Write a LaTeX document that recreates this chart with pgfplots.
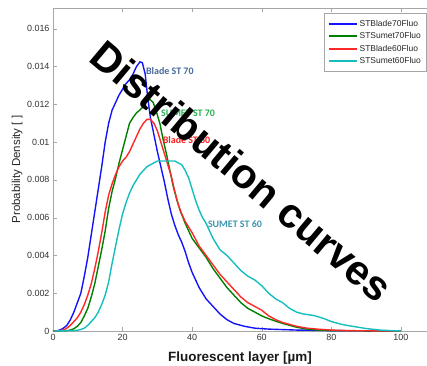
\documentclass[border=0pt]{standalone}
\usepackage{fontspec}
\setmainfont{Liberation Sans}
\newfontfamily\calibri{Carlito}
\usepackage{pgfplots}
\pgfplotsset{compat=1.18}
\definecolor{lineBlue}{RGB}{20,20,250}
\definecolor{lineGreen}{RGB}{0,128,0}
\definecolor{lineRed}{RGB}{255,40,40}
\definecolor{lineCyan}{RGB}{20,190,190}
\definecolor{ablue}{RGB}{70,105,155}
\definecolor{agreen}{RGB}{40,175,80}
\definecolor{ared}{RGB}{250,30,30}
\definecolor{ateal}{RGB}{60,150,175}
\begin{document}
\begin{tikzpicture}
\begin{axis}[
  scale only axis, width=374bp, height=323bp,
  xmin=0, xmax=107.5, ymin=0, ymax=0.0171,
  clip=false,
  xtick={0,20,40,60,80,100},
  ytick={0,0.002,0.004,0.006,0.008,0.01,0.012,0.014,0.016},
  yticklabels={0,0.002,0.004,0.006,0.008,0.01,0.012,0.014,0.016},
  scaled y ticks=false,
  tick align=inside, major tick length=4bp,
  xtick pos=both, ytick pos=left,
  axis line style={gray!70}, tick style={gray!70},
  ticklabel style={font=\fontsize{9}{10}\selectfont, text=black!80},
  /pgf/number format/assume math mode=true,
  xlabel={Fluorescent layer [µm]},
  xlabel style={font=\bfseries\fontsize{13.5}{15}\selectfont, at={(axis description cs:0.5,0)}, anchor=base, yshift=-30bp, text=black!90},
  ylabel={Probability Density [ ]},
  ylabel style={font=\fontsize{11.5}{13}\selectfont, at={(axis description cs:-0.096,0.5)}, anchor=center, text=black!85},
  legend style={at={(rel axis cs:1,1)}, anchor=north east, xshift=-1bp, yshift=-5.5bp, draw=gray!70,
    font=\fontsize{8.5}{10}\selectfont, text=black!85, inner xsep=3bp, inner ysep=4.5bp, row sep=0.8bp},
  legend cell align=left,
  legend image code/.code={\draw[#1] (0bp,0bp) -- (28bp,0bp);},
]
\addplot[forget plot, color=lineBlue, line width=1.4pt, mark=none] coordinates {
(0,0) (1,0.00001) (2,0.00005) (3,0.00015) (4,0.0003) (5,0.0006) (6,0.0010) (7,0.0015)
(8,0.0020) (9,0.0029) (10,0.0039) (11,0.0051) (12,0.0063) (13,0.0075) (14,0.0087)
(15,0.0100) (16,0.0110) (17,0.0117) (18,0.0121) (19,0.0125) (20,0.0128) (21,0.0131)
(22,0.0133) (23,0.0136) (24,0.0140) (25,0.01425) (25.7,0.0142) (26.5,0.0136) (27.2,0.0124)
(28,0.0113) (29,0.0104) (30,0.0095) (31,0.0087) (32,0.0079) (33,0.0070) (34,0.0062)
(35,0.0056) (36,0.0051) (37,0.0047) (38,0.0042) (39,0.0036) (40,0.0031) (41,0.0027)
(42,0.0023) (43,0.0020) (44,0.0017) (45,0.0015) (46,0.0013) (47,0.0011) (48,0.0009)
(50,0.0006) (52,0.0004) (55,0.00025) (58,0.00015) (62,0.0001) (70,0.00005) (80,0.00002) (100,0)
};
\addplot[forget plot, color=lineGreen, line width=1.4pt, mark=none] coordinates {
(0,0) (4,0.00002) (5,0.00005) (6,0.00012) (7,0.00025) (8,0.00045) (9,0.0008) (10,0.0012)
(11,0.0018) (12,0.0025) (13,0.0034) (14,0.0043) (15,0.0053) (16,0.0065) (17,0.0074)
(18,0.0081) (19,0.0089) (20,0.0096) (21,0.0103) (22,0.0110) (23,0.0113) (24,0.01155)
(25,0.0117) (26,0.0119) (27,0.0122) (27.9,0.01225) (28.8,0.0121) (29.8,0.01155)
(30.7,0.0110) (31.7,0.0101) (32.7,0.0093) (33.6,0.0085) (34.5,0.0077) (35.5,0.0070)
(36.5,0.0064) (38,0.0057) (40,0.0049) (42,0.0044) (44,0.0039) (46,0.0033) (48,0.0028)
(50,0.0023) (52,0.0019) (54,0.0015) (56,0.0012) (58,0.0010) (60,0.0008) (62,0.00065)
(64,0.00052) (66,0.0004) (68,0.0003) (70,0.0002) (73,0.0001) (76,0.00005) (80,0.00002) (100,0)
};
\addplot[forget plot, color=lineRed, line width=1.4pt, mark=none] coordinates {
(0,0) (2,0.00002) (3,0.00005) (4,0.00015) (5,0.0003) (6,0.0005) (7,0.0007) (8,0.0010)
(9,0.0014) (10,0.0019) (11,0.0025) (12,0.0033) (13,0.0042) (14,0.0052) (15,0.0063)
(16,0.0072) (17,0.0078) (18,0.0083) (19,0.0087) (20,0.0090) (21,0.0092) (22,0.0095)
(23,0.0099) (24,0.0103) (25,0.0107) (26,0.0110) (27,0.0112) (28,0.0112) (29,0.0110)
(30,0.0106) (31,0.0100) (32,0.0094) (33,0.0088) (34,0.0082) (35,0.0074) (36,0.0067)
(37,0.0062) (38,0.0058) (40,0.0052) (42,0.0045) (44,0.0040) (46,0.0035) (48,0.0030)
(50,0.0026) (52,0.0022) (54,0.0018) (56,0.0015) (58,0.0013) (60,0.0011) (62,0.0008)
(64,0.0006) (66,0.00045) (68,0.00035) (70,0.00025) (73,0.00015) (76,0.0001) (80,0.00005)
(84,0.00002) (100,0)
};
\addplot[forget plot, color=lineCyan, line width=1.4pt, mark=none] coordinates {
(0,0) (6,0.00002) (7,0.00004) (8,0.00008) (9,0.00015) (10,0.0003) (11,0.0005) (12,0.0007)
(13,0.0010) (14,0.0014) (15,0.0019) (16,0.0026) (17,0.0036) (18,0.0045) (19,0.0054)
(20,0.0062) (21,0.0068) (22,0.0073) (23,0.0077) (24,0.0080) (25,0.0083) (26,0.0085)
(27,0.0087) (28,0.0088) (29,0.0089) (30,0.0090) (31,0.0090) (32,0.0090) (33,0.0090)
(34,0.0090) (35,0.0090) (36,0.0089) (37,0.0088) (38,0.0085) (39,0.0081) (40,0.0075)
(41,0.0069) (42,0.0064) (43,0.0060) (44,0.0057) (45,0.0053) (46,0.0049) (47,0.0046)
(48,0.0043) (50,0.0040) (52,0.0036) (54,0.0032) (56,0.0029) (58,0.0027) (60,0.0024)
(62,0.0020) (64,0.0017) (66,0.0015) (68,0.0012) (70,0.0010) (72,0.0009) (75,0.00082)
(78,0.00065) (80,0.0005) (83,0.00035) (86,0.00025) (90,0.00013) (94,0.00005) (97,0.00002) (100,0)
};
\addlegendimage{color=lineBlue, line width=2pt}
\addlegendentry{STBlade70Fluo}
\addlegendimage{color=lineGreen, line width=2pt}
\addlegendentry{STSumet70Fluo}
\addlegendimage{color=lineRed, line width=2pt}
\addlegendentry{STBlade60Fluo}
\addlegendimage{color=lineCyan, line width=2pt}
\addlegendentry{STSumet60Fluo}
\node[anchor=west, inner sep=0pt, text=ablue, font=\calibri\bfseries\fontsize{10}{10}\selectfont] at (axis cs:26.7,0.01374) {Blade ST 70};
\node[anchor=west, inner sep=0pt, text=agreen, font=\calibri\bfseries\fontsize{10}{10}\selectfont] at (axis cs:31.0,0.01151) {SUMET ST 70};
\node[anchor=west, inner sep=0pt, text=ared, font=\calibri\bfseries\fontsize{10}{10}\selectfont] at (axis cs:31.5,0.01013) {Blade ST 60};
\node[anchor=west, inner sep=0pt, text=ateal, font=\calibri\bfseries\fontsize{10}{10}\selectfont] at (axis cs:44.5,0.00568) {SUMET ST 60};
\node[rotate=-40, inner sep=0pt, font=\bfseries\fontsize{41.7}{42}\selectfont] at (axis cs:54.3,0.00847) {Distribution curves};
\end{axis}
\pgfresetboundingbox
\useasboundingbox (-53bp,-35bp) rectangle (374bp,331bp);
\end{tikzpicture}
\end{document}
